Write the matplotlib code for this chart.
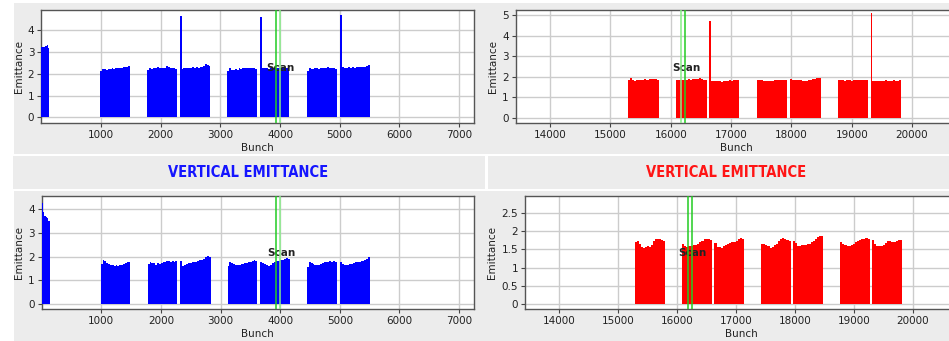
import matplotlib
matplotlib.use("Agg")
import matplotlib.pyplot as plt
from matplotlib.patches import Rectangle

# ---- data ----
# blue panels (bunch 0..7000)
blue_train_start = [0, 990, 1777, 2350, 3118, 3695, 4448, 5036]
blue_train_end = [134, 1487, 2275, 2833, 3615, 4157, 4951, 5504]
blue_top_h = [
    [3.22, 3.22, 3.24, 3.26, 3.30, 3.17],
    [2.12, 2.22, 2.20, 2.17, 2.20, 2.22, 2.25, 2.22, 2.26, 2.27, 2.28, 2.27, 2.30, 2.31, 2.32, 2.34],
    [2.18, 2.24, 2.22, 2.27, 2.25, 2.30, 2.26, 2.27, 2.25, 2.28, 2.33, 2.30, 2.27, 2.26, 2.25, 2.22],
    [2.22, 2.25, 2.24, 2.27, 2.26, 2.28, 2.30, 2.27, 2.29, 2.27, 2.30, 2.32, 2.36, 2.43, 2.42, 2.35],
    [2.12, 2.24, 2.19, 2.16, 2.21, 2.19, 2.25, 2.23, 2.27, 2.24, 2.25, 2.27, 2.26, 2.24, 2.25, 2.22],
    [2.24, 2.25, 2.24, 2.23, 2.25, 2.24, 2.26, 2.25, 2.24, 2.25, 2.26, 2.25, 2.26, 2.25],
    [2.12, 2.27, 2.22, 2.20, 2.27, 2.25, 2.22, 2.28, 2.26, 2.25, 2.28, 2.30, 2.28, 2.26, 2.25, 2.21],
    [2.30, 2.28, 2.25, 2.29, 2.28, 2.30, 2.28, 2.29, 2.30, 2.31, 2.30, 2.31, 2.34, 2.40],
]
blue_top_spike_x = [2320, 3665, 5006]
blue_top_spike_h = [4.65, 4.61, 4.70]

blue_bot_start = [0, 990, 1777, 2320, 3118, 3665, 4448, 5006]
blue_bot_end = [134, 1487, 2275, 2833, 3615, 4157, 4951, 5504]
blue_bot_h = [
    [4.25, 3.90, 3.72, 3.66, 3.64, 3.52],
    [1.69, 1.85, 1.80, 1.74, 1.70, 1.67, 1.64, 1.61, 1.63, 1.62, 1.64, 1.67, 1.70, 1.75, 1.79, 1.77],
    [1.68, 1.79, 1.75, 1.72, 1.66, 1.72, 1.70, 1.74, 1.76, 1.78, 1.80, 1.81, 1.79, 1.80, 1.79, 1.80],
    [1.80, 1.62, 1.65, 1.70, 1.72, 1.75, 1.76, 1.79, 1.78, 1.82, 1.84, 1.87, 1.92, 1.97, 2.02, 1.98],
    [1.62, 1.78, 1.74, 1.70, 1.66, 1.63, 1.66, 1.68, 1.70, 1.73, 1.75, 1.77, 1.79, 1.82, 1.84, 1.80],
    [1.77, 1.72, 1.68, 1.63, 1.62, 1.66, 1.72, 1.76, 1.80, 1.83, 1.86, 1.88, 1.90, 1.93, 1.92],
    [1.57, 1.76, 1.72, 1.69, 1.66, 1.64, 1.67, 1.70, 1.73, 1.76, 1.78, 1.79, 1.80, 1.79, 1.80, 1.78],
    [1.77, 1.68, 1.64, 1.63, 1.65, 1.69, 1.71, 1.73, 1.76, 1.78, 1.79, 1.80, 1.81, 1.85, 1.92, 1.99],
]

# red panels (bunch 14000..20000)
red_top_start = [15293, 16084, 16667, 17428, 17975, 18771, 19342]
red_top_end = [15802, 16599, 17139, 17930, 18483, 19269, 19820]
red_top_h = [
    [1.84, 1.92, 1.85, 1.80, 1.83, 1.85, 1.84, 1.86, 1.87, 1.85, 1.90, 1.91, 1.89, 1.88, 1.86],
    [1.82, 1.86, 1.85, 1.84, 1.86, 1.85, 1.87, 1.86, 1.88, 1.90, 1.87, 1.92, 1.89, 1.86, 1.85],
    [1.79, 1.78, 1.79, 1.77, 1.80, 1.76, 1.80, 1.78, 1.80, 1.82, 1.81, 1.84, 1.83, 1.84],
    [1.82, 1.86, 1.83, 1.80, 1.79, 1.77, 1.78, 1.80, 1.82, 1.84, 1.83, 1.85, 1.84, 1.83],
    [1.88, 1.86, 1.84, 1.82, 1.83, 1.82, 1.81, 1.80, 1.81, 1.84, 1.85, 1.87, 1.90, 1.92, 1.93],
    [1.82, 1.84, 1.82, 1.81, 1.82, 1.83, 1.81, 1.82, 1.82, 1.83, 1.84, 1.82, 1.85, 1.84],
    [1.80, 1.81, 1.80, 1.79, 1.81, 1.80, 1.82, 1.80, 1.79, 1.81, 1.82, 1.80, 1.81, 1.82],
]
red_top_spike_x = [16637, 19312]
red_top_spike_h = [4.70, 5.13]

red_bot_start = [15293, 16084, 16637, 17428, 17975, 18771, 19312]
red_bot_end = [15802, 16599, 17139, 17930, 18483, 19269, 19820]
red_bot_h = [
    [1.70, 1.73, 1.66, 1.57, 1.55, 1.57, 1.58, 1.57, 1.62, 1.72, 1.79, 1.78, 1.77, 1.76, 1.74],
    [1.64, 1.58, 1.57, 1.60, 1.58, 1.61, 1.62, 1.66, 1.70, 1.74, 1.79, 1.78, 1.77, 1.76],
    [1.67, 1.56, 1.57, 1.54, 1.58, 1.61, 1.65, 1.68, 1.70, 1.71, 1.73, 1.79, 1.80, 1.78],
    [1.65, 1.64, 1.62, 1.58, 1.55, 1.57, 1.61, 1.66, 1.72, 1.79, 1.80, 1.79, 1.76, 1.74],
    [1.74, 1.68, 1.58, 1.60, 1.61, 1.62, 1.62, 1.64, 1.66, 1.70, 1.73, 1.77, 1.83, 1.87, 1.86],
    [1.69, 1.66, 1.62, 1.59, 1.60, 1.61, 1.64, 1.70, 1.72, 1.75, 1.77, 1.79, 1.80, 1.78],
    [1.76, 1.64, 1.60, 1.58, 1.59, 1.62, 1.68, 1.72, 1.74, 1.69, 1.71, 1.73, 1.75, 1.75],
]

scan_blue = [3934, 4001]
scan_red_top = [16177, 16239]
scan_red_bot = [16195, 16248]
blue_ticks = [1000, 2000, 3000, 4000, 5000, 6000, 7000]
red_ticks = [14000, 15000, 16000, 17000, 18000, 19000, 20000]

W, H = 949, 341
BG = '#ececec'

fig = plt.figure(figsize=(W / 100, H / 100), dpi=100, facecolor='white')


def px_rect(x0, y0, x1, y1):
    # pixel box (top-left origin) -> figure fraction
    return [x0 / W, 1 - y1 / H, (x1 - x0) / W, (y1 - y0) / H]


def add_bg(x0, y0, x1, y1):
    l, b, w, h = px_rect(x0, y0, x1, y1)
    fig.add_artist(Rectangle((l, b), w, h, transform=fig.transFigure,
                             facecolor=BG, edgecolor='none', zorder=-10))


add_bg(14, 3, 949, 154)
add_bg(13, 156, 485, 189)
add_bg(488, 156, 949, 189)
add_bg(14, 191, 949, 341)


def panel(box, starts, ends, heights, color, xlim, ylim, ticks, yticks,
          ytick_labels, scan, scan_colors, scan_xy, spike_x=None, spike_h=None):
    ax = fig.add_axes(px_rect(*box))
    ax.set_facecolor('white')
    # each bunch train as one filled step outline (no seams between bins)
    for s, e, hs in zip(starts, ends, heights):
        w = (e - s) / len(hs)
        edges = [s + i * w for i in range(len(hs) + 1)]
        ax.stairs(hs, edges, baseline=0, fill=True, color=color, lw=0,
                  antialiased=False, zorder=3)
    if spike_x:
        ax.bar(spike_x, spike_h, width=30, align='edge', color=color, linewidth=0,
               antialiased=False, zorder=3)
    for x, c in zip(scan, scan_colors):
        ax.axvline(x, color=c, lw=1.1, zorder=4)
    ax.text(scan_xy[0], scan_xy[1], 'Scan', fontsize=7.5, fontweight='bold',
            color='#222222', va='center', ha='left', zorder=3.5)
    ax.set_xlim(*xlim)
    ax.set_ylim(*ylim)
    ax.set_xticks(ticks)
    ax.set_yticks(yticks)
    ax.set_yticklabels(ytick_labels)
    ax.grid(True, color='#cccccc', lw=1, zorder=0)
    ax.tick_params(labelsize=7.5, length=3, width=0.8, color='#444444',
                   labelcolor='#222222', pad=2)
    for sp in ax.spines.values():
        sp.set_color('#555555')
        sp.set_linewidth(1)
    ax.set_xlabel('Bunch', fontsize=7.5, color='#222222', labelpad=2)
    ax.set_ylabel('Emittance', fontsize=7.5, color='#222222', labelpad=3)
    return ax


panel((41.3, 10.3, 474, 123.3), blue_train_start, blue_train_end, blue_top_h, 'blue',
      (0, 7250), (-0.27, 4.9), blue_ticks, [0, 1, 2, 3, 4], ['0', '1', '2', '3', '4'],
      scan_blue, ['#22cc22', '#88ee88'], (3777, 2.27), blue_top_spike_x, blue_top_spike_h)

panel((515.7, 10.3, 958, 123.3), red_top_start, red_top_end, red_top_h, 'red',
      (13431, 20762), (-0.27, 5.24), red_ticks, [0, 1, 2, 3, 4, 5],
      ['0', '1', '2', '3', '4', '5'],
      scan_red_top, ['#88ee88', '#22cc22'], (16028, 2.44), red_top_spike_x, red_top_spike_h)

panel((41.7, 196.3, 474, 309), blue_bot_start, blue_bot_end, blue_bot_h, 'blue',
      (0, 7250), (-0.2, 4.54), blue_ticks, [0, 1, 2, 3, 4], ['0', '1', '2', '3', '4'],
      scan_blue, ['#22cc22', '#88ee88'], (3777, 2.14))

panel((525, 196.3, 958, 309), red_bot_start, red_bot_end, red_bot_h, 'red',
      (13423, 20768), (-0.13, 2.95), red_ticks, [0, 0.5, 1, 1.5, 2, 2.5],
      ['0', '0.5', '1', '1.5', '2', '2.5'],
      scan_red_bot, ['#22cc22', '#22cc22'], (16023, 1.39))

fig.text(248 / W, 1 - 172.5 / H, 'VERTICAL EMITTANCE', color='#1515ff', fontsize=10.5,
         fontweight='bold', fontstretch='condensed', ha='center', va='center')
fig.text(726 / W, 1 - 172.5 / H, 'VERTICAL EMITTANCE', color='#ff1515', fontsize=10.5,
         fontweight='bold', fontstretch='condensed', ha='center', va='center')

fig.savefig('out.png', dpi=100, facecolor=fig.get_facecolor())
